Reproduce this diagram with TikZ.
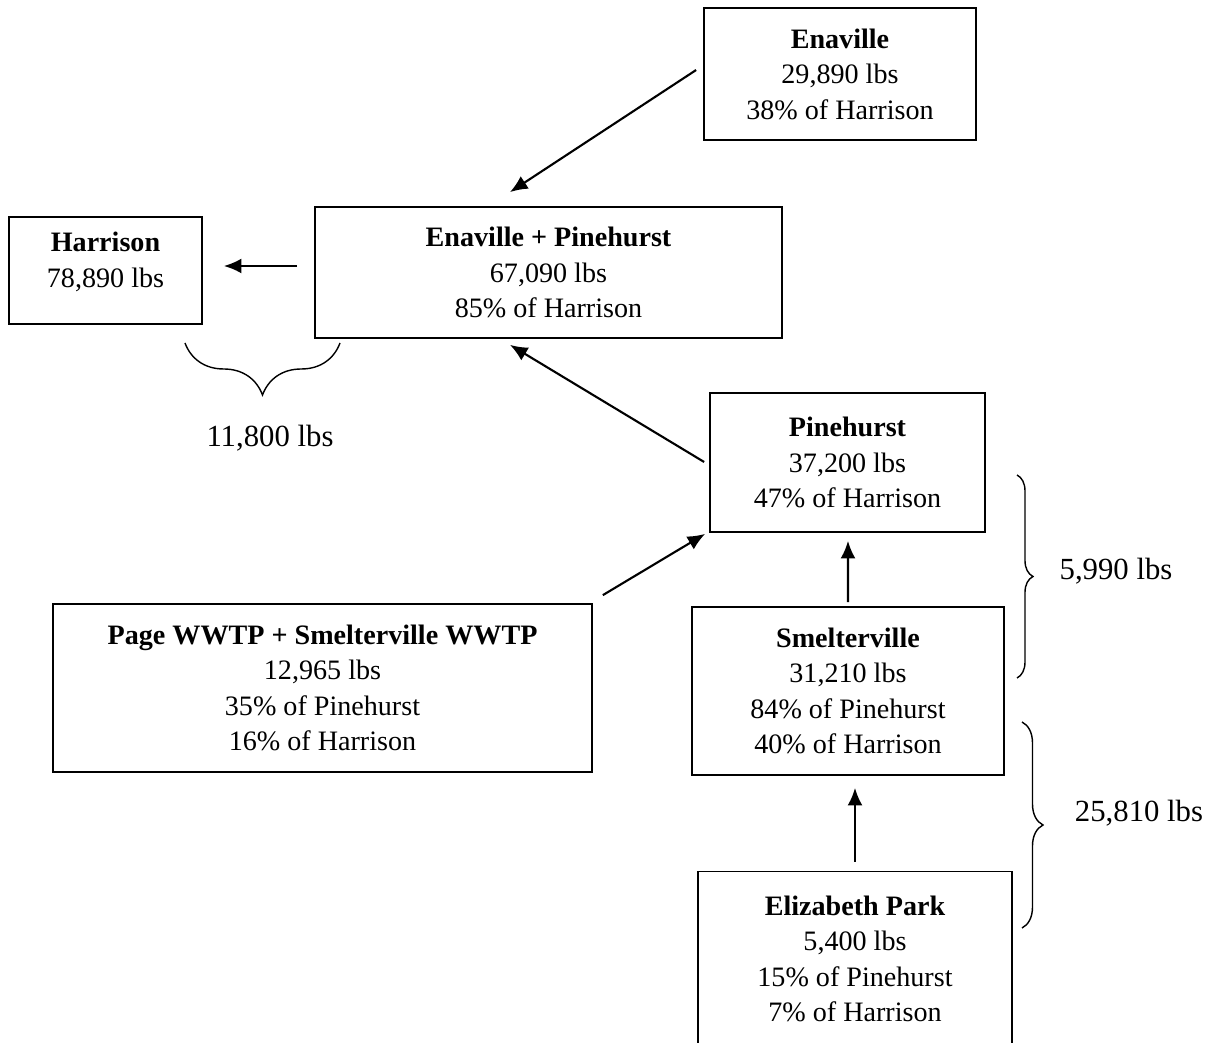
\documentclass[tikz,border=0pt]{standalone}
\usepackage{fontspec}
\setmainfont{Liberation Serif}
\usetikzlibrary{arrows.meta,decorations.pathreplacing}

\begin{document}
\begin{tikzpicture}[x=0.02cm,y=-0.02cm,
  box/.style={draw, line width=1pt, inner sep=0pt, align=center, font=\fontsize{16}{20.2}\selectfont},
  flow/.style={-{Latex[length=10pt,width=8.5pt]}, line width=1.2pt},
  curly/.style={decorate, decoration={brace, amplitude=#1}, line width=0.8pt},
  total/.style={font=\fontsize{17.5}{20}\selectfont}]
\useasboundingbox (0,0) rectangle (1218,1043);
% sampling points
\node[box, minimum width=5.44cm, minimum height=2.64cm] (enaville) at (840,74) {\textbf{Enaville}\\29,890 lbs\\38\% of Harrison};
\node[box, minimum width=9.34cm, minimum height=2.62cm] (ep) at (548.5,272.5) {\textbf{Enaville + Pinehurst}\\67,090 lbs\\85\% of Harrison};
\node[box, minimum width=3.86cm, minimum height=2.14cm] (harrison) at (105.5,270.5) {\textbf{Harrison}\\78,890 lbs\\[-8pt]\mbox{}};
\node[box, minimum width=5.5cm, minimum height=2.78cm] (pinehurst) at (847.5,462.5) {\textbf{Pinehurst}\\37,200 lbs\\47\% of Harrison};
\node[box, minimum width=10.78cm, minimum height=3.36cm] (wwtp) at (322.5,688) {\textbf{Page WWTP + Smelterville WWTP}\\12,965 lbs\\35\% of Pinehurst\\16\% of Harrison};
\node[box, minimum width=6.24cm, minimum height=3.36cm] (smelter) at (848,691) {\textbf{Smelterville}\\31,210 lbs\\84\% of Pinehurst\\40\% of Harrison};
\node[box, minimum width=6.28cm, minimum height=3.5cm] (eliz) at (855,959) {\textbf{Elizabeth Park}\\5,400 lbs\\15\% of Pinehurst\\7\% of Harrison};
% loads moving downstream
\draw[flow] ([shift={(-7,-4)}]enaville.west) -- ([shift={(-38.5,-14)}]ep.north);
\draw[flow] ([shift={(-17,-6.5)}]ep.west) -- ([shift={(21,-4.5)}]harrison.east);
\draw[flow] ([shift={(-5,-0.5)}]pinehurst.west) -- ([shift={(-38.5,6)}]ep.south);
\draw[flow] ([shift={(10,-8)}]wwtp.north east) -- ([shift={(-4,1)}]pinehurst.south west);
\draw[flow] ([shift={(0,-4)}]smelter.north) -- ([shift={(0.5,8)}]pinehurst.south);
\draw[flow] ([shift={(0,-9)}]eliz.north) -- ([shift={(7,12)}]smelter.south);
% differences between stations
\draw[curly=1.04cm] (340,343) -- (185,343);
\node[total] (d1) at (270,438) {11,800 lbs};
\draw[curly=0.32cm] (1017,475) -- (1017,678);
\node[total] (d2) at (1116,571) {5,990 lbs};
\draw[curly=0.42cm] (1022,722) -- (1022,928);
\node[total] (d3) at (1139,813) {25,810 lbs};
\end{tikzpicture}
\end{document}
